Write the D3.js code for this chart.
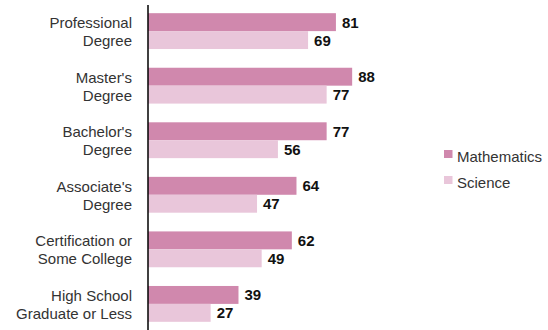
<!DOCTYPE html>
<html><head><meta charset="utf-8">
<script src="https://cdn.jsdelivr.net/npm/d3@7"></script>
<style>body{margin:0;background:#fff}svg{display:block}</style>
</head><body>
<svg id="c" width="548" height="330"></svg>
<script>
const categories = [["Professional","Degree"],["Master's","Degree"],["Bachelor's","Degree"],["Associate's","Degree"],["Certification or","Some College"],["High School","Graduate or Less"]];
const seriesNames = ["Mathematics","Science"];
const mathValues = [81,88,77,64,62,39];
const scienceValues = [69,77,56,47,49,27];
const colors = ["#d088ad","#e9c6da"];

const svg = d3.select("#c");
const font = "'Liberation Sans', Arial, sans-serif";
const keys = categories.map(c => c.join(" "));
const x = d3.scaleLinear().domain([0,100]).range([148,380]);
const y = d3.scaleBand().domain(keys).range([5,330]).paddingInner(0.343).paddingOuter(0.15);
const ys = d3.scaleBand().domain(seriesNames).range([0,y.bandwidth()]);
const data = keys.map((k,i)=>({k, vals:[mathValues[i], scienceValues[i]], lines:categories[i]}));

const g = svg.selectAll("g.grp").data(data).join("g").attr("class","grp")
  .attr("transform", d=>`translate(0,${y(d.k)})`);
g.selectAll("rect").data(d=>d.vals.map((v,j)=>({v,s:seriesNames[j],j}))).join("rect")
  .attr("x", x(0)).attr("y", d=>ys(d.s)).attr("width", d=>x(d.v)-x(0))
  .attr("height", ys.bandwidth()).attr("fill", d=>colors[d.j]);
g.selectAll("text.val").data(d=>d.vals.map((v,j)=>({v,s:seriesNames[j]}))).join("text")
  .attr("class","val").attr("x", d=>x(d.v)+6).attr("y", d=>ys(d.s)+ys.bandwidth()/2+5.5)
  .attr("font-family", font).attr("font-weight","bold").attr("font-size",15).attr("fill","#111")
  .text(d=>d.v);
g.each(function(d){
  const t = d3.select(this).append("text").attr("text-anchor","end")
    .attr("font-family", font).attr("font-size",15).attr("fill","#333");
  d.lines.forEach((l,j)=>{
    t.append("tspan").attr("x",132).attr("y", ys(seriesNames[j])+ys.bandwidth()/2+6).text(l);
  });
});
// axis line
svg.append("line").attr("x1",x(0)).attr("x2",x(0)).attr("y1",5).attr("y2",330)
  .attr("stroke","#000").attr("stroke-width",1.5);

const lg = svg.selectAll("g.leg").data(seriesNames).join("g").attr("class","leg")
  .attr("transform",(d,i)=>`translate(444,${150+i*26})`);
lg.append("rect").attr("width",8.5).attr("height",8).attr("fill",(d,i)=>colors[i]);
lg.append("text").attr("x",13).attr("y",12).attr("font-family",font).attr("font-size",15)
  .attr("fill","#333").text(d=>d);
</script>
</body></html>
